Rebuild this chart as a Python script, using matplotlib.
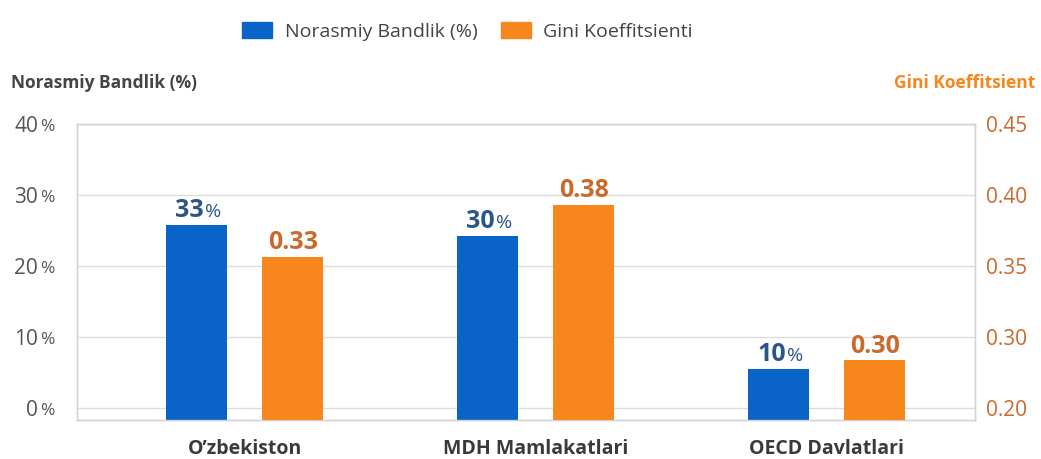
import matplotlib.pyplot as plt
import numpy as np
from matplotlib.patches import Patch

plt.rcParams['font.family'] = ['Open Sans', 'DejaVu Sans']

# data
categories = ["O\u2019zbekiston", "MDH Mamlakatlari", "OECD Davlatlari"]
bandlik_bars = [25.8, 24.2, 5.5]          # drawn bar heights (left axis, %)
bandlik_labels = ["33", "30", "10"]       # printed values (%)
gini_bars = [0.333, 0.379, 0.242]         # drawn bar heights (right axis)
gini_labels = ["0.33", "0.38", "0.30"]
left_ticks = [0, 10, 20, 30, 40]
right_tick_labels = ["0.20", "0.30", "0.35", "0.40", "0.45"]

blue = "#0a63c6"
orange = "#f7861c"
blue_txt = "#2d5688"
orange_txt = "#c96a2c"
grey_txt = "#555555"
grid_col = "#dcdcdc"

fig = plt.figure(figsize=(10.41, 4.59), dpi=100)
ax = fig.add_axes([0.074, 0.085, 0.8626, 0.6449])
ax2 = ax.twinx()

# axis floors sit a little below zero, bars start at the floor
left_lim = (-1.7, 40)
right_lim = (0.2 - 1.7 / 40 * 0.25, 0.45)

x = np.arange(len(categories))
w = 0.21
off = 0.165

ax.bar(x - off, np.array(bandlik_bars) - left_lim[0], w, bottom=left_lim[0],
       color=blue, zorder=3)
ax2.bar(x + off, np.array(gini_bars) - right_lim[0], w, bottom=right_lim[0],
        color=orange, zorder=3)

ax.set_xlim(-0.577, 2.509)
ax.set_ylim(*left_lim)
ax2.set_ylim(*right_lim)

# left axis: number as tick label, smaller % sign added next to it
ax.set_yticks(left_ticks)
ax.set_yticklabels([str(t) for t in left_ticks], fontsize=15, color=grey_txt)
ax.tick_params(axis='y', length=0, pad=28)
for t in left_ticks:
    ax.annotate("%", (-0.041, t), xycoords=ax.get_yaxis_transform(),
                xytext=(0, -5.3), textcoords='offset points', fontsize=12.5,
                color=grey_txt, ha='left', va='baseline')
ax.yaxis.grid(True, color=grid_col, lw=1, zorder=0)
ax.set_axisbelow(True)

# right axis: labels sit on the left gridlines
ax2.set_yticks([0.2 + t / 40 * 0.25 for t in left_ticks])
ax2.set_yticklabels(right_tick_labels, fontsize=15, color=orange_txt)
ax2.tick_params(axis='y', length=0, pad=8)

ax.set_xticks(x)
ax.set_xticklabels(categories, fontsize=14, fontweight='bold', color="#3a3a3a")
ax.tick_params(axis='x', length=0, pad=14)

for a in (ax, ax2):
    for s in a.spines.values():
        s.set_color("#d4d4d4")
        s.set_linewidth(1)

# value labels
for xi, h, lab in zip(x - off, bandlik_bars, bandlik_labels):
    ax.annotate(lab, (xi, h), xytext=(5, 5.5), textcoords='offset points',
                ha='right', va='baseline', fontsize=18, fontweight='bold', color=blue_txt)
    ax.annotate("%", (xi, h), xytext=(5.5, 5.5), textcoords='offset points',
                ha='left', va='baseline', fontsize=14, color=blue_txt)
for xi, h, lab in zip(x + off, gini_bars, gini_labels):
    ax2.annotate(lab, (xi, h), xytext=(0, 5.5), textcoords='offset points',
                 ha='center', va='baseline', fontsize=18, fontweight='bold', color=orange_txt)

# axis titles
fig.text(0.011, 0.82, "Norasmiy Bandlik (%)", fontsize=12.5, fontweight='bold',
         color="#444444", ha='left', va='center')
fig.text(0.994, 0.82, "Gini Koeffitsient", fontsize=12.5, fontweight='bold',
         color=orange, ha='right', va='center')

handles = [Patch(color=blue, label="Norasmiy Bandlik (%)"),
           Patch(color=orange, label="Gini Koeffitsienti")]
fig.legend(handles=handles, loc='center', bbox_to_anchor=(0.449, 0.932), ncol=2,
           frameon=False, fontsize=14, handlelength=1.55, handleheight=0.93,
           handletextpad=0.65, columnspacing=1.2, labelcolor="#444444")

fig.savefig("out.png", dpi=100)
